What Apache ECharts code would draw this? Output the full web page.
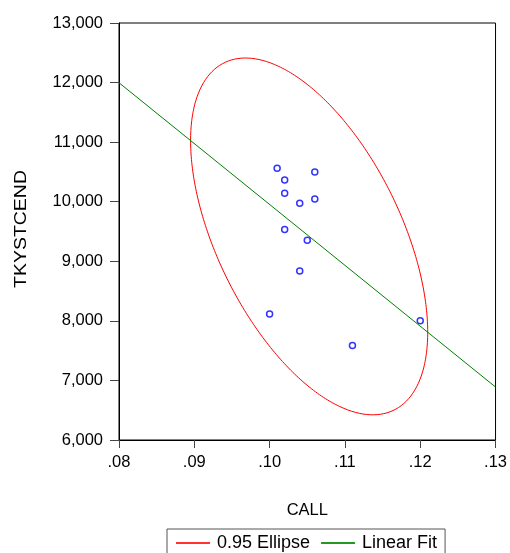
<!DOCTYPE html>
<html>
<head>
<meta charset="utf-8">
<script src="https://cdn.jsdelivr.net/npm/echarts@6/dist/echarts.min.js"></script>
<style>html,body{margin:0;padding:0;background:#fff}#c{width:510px;height:553px}</style>
</head>
<body>
<div id="c"></div>
<script>
// Data
var callValues = [0.101, 0.106, 0.102, 0.102, 0.106, 0.104, 0.102, 0.105, 0.104, 0.100, 0.111, 0.120];
var tkystcendValues = [10560, 10500, 10365, 10140, 10045, 9975, 9535, 9355, 8835, 8115, 7585, 8000];
var xTicks = [0.08, 0.09, 0.10, 0.11, 0.12, 0.13];
var yTicks = [6000, 7000, 8000, 9000, 10000, 11000, 12000, 13000];
var seriesNames = ['0.95 Ellipse', 'Linear Fit'];
var xName = 'CALL';
var yName = 'TKYSTCEND';
var fCrit = 4.103; // F(2, n-2) 95% critical value for the ellipse

var n = callValues.length;
var mx = 0, my = 0;
for (var i = 0; i < n; i++) { mx += callValues[i]; my += tkystcendValues[i]; }
mx /= n; my /= n;
var sxx = 0, syy = 0, sxy = 0;
for (i = 0; i < n; i++) {
  var dx = callValues[i] - mx, dy = tkystcendValues[i] - my;
  sxx += dx * dx; syy += dy * dy; sxy += dx * dy;
}
var slope = sxy / sxx, icpt = my - slope * mx;
var fitLine = [[xTicks[0], icpt + slope * xTicks[0]], [xTicks[xTicks.length - 1], icpt + slope * xTicks[xTicks.length - 1]]];

var cxx = sxx / (n - 1), cyy = syy / (n - 1), cxy = sxy / (n - 1);
var k = Math.sqrt(2 * fCrit);
var l11 = Math.sqrt(cxx), l21 = cxy / l11, l22 = Math.sqrt(cyy - l21 * l21);
var ellipse = [];
for (var j = 0; j <= 360; j++) {
  var t = j * Math.PI / 180, c = Math.cos(t), s = Math.sin(t);
  ellipse.push([mx + k * l11 * c, my + k * (l21 * c + l22 * s)]);
}
var scatter = callValues.map(function (v, i) { return [v, tkystcendValues[i]]; });

var font = 'Liberation Sans, Arial, sans-serif';
var fs = 16.5;
var chart = echarts.init(document.getElementById('c'));
chart.setOption({
  animation: false,
  backgroundColor: '#fff',
  grid: { left: 119, right: 13, top: 23, bottom: 113, show: true, borderColor: '#000', borderWidth: 1 },
  xAxis: {
    type: 'value', min: xTicks[0], max: xTicks[xTicks.length - 1], interval: 0.01,
    name: xName, nameLocation: 'middle', nameGap: 62,
    nameTextStyle: { fontFamily: font, fontSize: fs, color: '#000' },
    axisLine: { onZero: false, lineStyle: { color: '#000', width: 1 } },
    axisTick: { length: 8, lineStyle: { color: '#444' } },
    splitLine: { show: false },
    axisLabel: { fontFamily: font, fontSize: fs, color: '#000', margin: 14,
      formatter: function (v) { return v.toFixed(2).replace(/^0/, ''); } }
  },
  yAxis: {
    type: 'value', min: yTicks[0], max: yTicks[yTicks.length - 1], interval: 1000,
    axisLine: { onZero: false, lineStyle: { color: '#000', width: 1 } },
    axisTick: { length: 9, lineStyle: { color: '#444' } },
    splitLine: { show: false },
    axisLabel: { fontFamily: font, fontSize: fs, color: '#000', margin: 16,
      formatter: function (v) { return v.toLocaleString('en-US'); } }
  },
  graphic: [{
    type: 'text', x: 21, y: 229, rotation: Math.PI / 2, scaleX: 1.18,
    style: { text: yName, fontFamily: font, fontSize: fs, fill: '#000', align: 'center', verticalAlign: 'middle' }
  }],
  legend: {
    data: seriesNames, left: 167, top: 529, width: 276,
    icon: 'rect',
    padding: [5, 8, 5, 9], itemGap: 11, itemWidth: 34, itemHeight: 2,
    borderColor: '#555', borderWidth: 1,
    textStyle: { fontFamily: font, fontSize: 18, color: '#000', padding: [0, 0, 0, 2] }
  },
  series: [
    { name: seriesNames[0], type: 'line', data: ellipse, symbol: 'none', smooth: false,
      lineStyle: { color: '#ff0000', width: 1 }, itemStyle: { color: '#ff3333' } },
    { name: seriesNames[1], type: 'line', data: fitLine, symbol: 'none',
      lineStyle: { color: '#008000', width: 1 }, itemStyle: { color: '#229922' } },
    { name: 'points', type: 'scatter', data: scatter, symbol: 'circle', symbolSize: 6,
      itemStyle: { color: '#fff', borderColor: '#0000ff', borderWidth: 1.5 } }
  ]
});
</script>
</body>
</html>
